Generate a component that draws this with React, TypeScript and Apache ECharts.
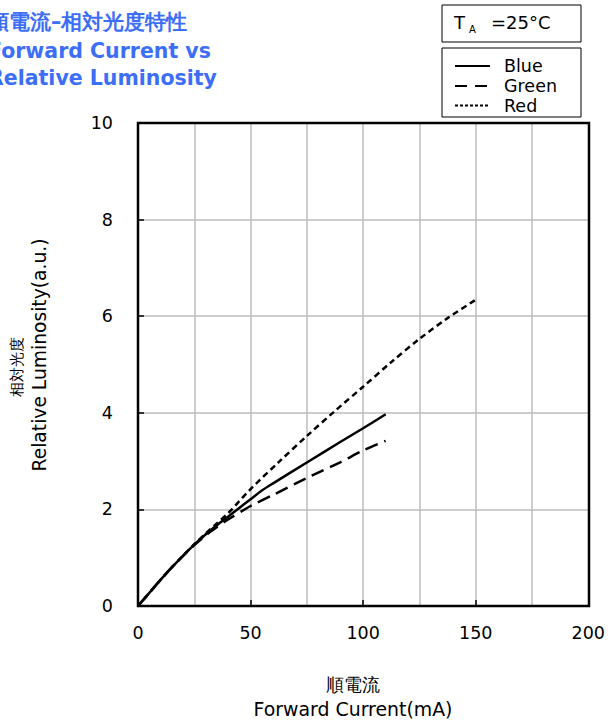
import React, { useEffect, useRef } from "react";
import * as echarts from "echarts";

const xTicks = [0, 50, 100, 150, 200];
const yTicks = [0, 2, 4, 6, 8, 10];

const blueX = [0, 5, 10, 15, 20, 25, 30, 35, 40, 45, 50, 55, 60, 75, 90, 100, 110];
const blueY = [0, 0.27, 0.54, 0.8, 1.04, 1.27, 1.48, 1.67, 1.85, 2.03, 2.21, 2.39, 2.54, 2.97, 3.4, 3.68, 3.97];

const greenX = [0, 5, 10, 15, 20, 25, 30, 35, 40, 50, 60, 75, 90, 100, 110];
const greenY = [0, 0.27, 0.54, 0.8, 1.04, 1.26, 1.46, 1.63, 1.79, 2.07, 2.3, 2.65, 2.98, 3.22, 3.42];

const redX = [0, 5, 10, 15, 20, 25, 30, 35, 40, 50, 62.5, 75, 87.5, 100, 112.5, 125, 137.5, 150];
const redY = [0, 0.27, 0.54, 0.8, 1.04, 1.28, 1.5, 1.71, 1.92, 2.42, 2.98, 3.52, 4.04, 4.54, 5.05, 5.53, 5.96, 6.34];

const titleLines = ["順電流–相対光度特性", "Forward Current vs", "Relative Luminosity"];
const legendNames = ["Blue", "Green", "Red"];
const xNameLines = ["順電流", "Forward Current(mA)"];
const yNameLines = ["相対光度", "Relative Luminosity(a.u.)"];

const pair = (xs: number[], ys: number[]) => xs.map((x, i) => [x, ys[i]]);

const FONT = "'DejaVu Sans', Verdana, sans-serif";
const GL = 138, GT = 123, GW = 451, GH = 483;

export default function App() {
  const ref = useRef<HTMLDivElement>(null);
  useEffect(() => {
    if (!ref.current) return;
    const chart = echarts.init(ref.current, null, { renderer: "svg" });
    const lineW = 2.5;
    const titleColor = "#3d6ef7";
    const graphics: any[] = [];
    const titleBase = [32, 61, 88];
    titleLines.forEach((t, i) => {
      graphics.push({
        type: "text",
        x: -12,
        y: titleBase[i],
        z: 10,
        style: {
          text: t,
          fill: titleColor,
          font: `bold 20.5px ${FONT}`,
          textAlign: "left",
          textVerticalAlign: "bottom",
        },
      });
    });
    // T_A box
    graphics.push({
      type: "rect",
      shape: { x: 442, y: 5, width: 139, height: 37 },
      style: { fill: "#fff", stroke: "#000", lineWidth: 1 },
      z: 10,
    });
    graphics.push({
      type: "text",
      x: 454,
      y: 22,
      z: 11,
      style: { text: "T", fill: "#000", font: `18px ${FONT}`, textVerticalAlign: "middle" },
    });
    graphics.push({
      type: "text",
      x: 469,
      y: 29,
      z: 11,
      style: { text: "A", fill: "#000", font: `10px ${FONT}`, textVerticalAlign: "middle" },
    });
    graphics.push({
      type: "text",
      x: 491,
      y: 22,
      z: 11,
      style: { text: "=25°C", fill: "#000", font: `18px ${FONT}`, textVerticalAlign: "middle" },
    });
    // legend box
    graphics.push({
      type: "rect",
      shape: { x: 442, y: 48, width: 139, height: 69 },
      style: { fill: "#fff", stroke: "#000", lineWidth: 1 },
      z: 10,
    });
    const legY = [66, 86, 105.5];
    const legDash: any[] = [null, [12, 8], [3, 2]];
    legendNames.forEach((n, i) => {
      graphics.push({
        type: "line",
        shape: { x1: 455, y1: legY[i], x2: 490, y2: legY[i] },
        style: { stroke: "#000", lineWidth: 2.2, lineDash: legDash[i] },
        z: 11,
      });
      graphics.push({
        type: "text",
        x: 504,
        y: legY[i],
        z: 11,
        style: { text: n, fill: "#000", font: `17.5px ${FONT}`, textVerticalAlign: "middle" },
      });
    });
    // axis names
    const xNameY = [685, 709];
    const xNameSize = [17.5, 18.9];
    xNameLines.forEach((t, i) => {
      graphics.push({
        type: "text",
        x: 353,
        y: xNameY[i],
        z: 10,
        style: { text: t, fill: "#000", font: `${xNameSize[i]}px ${FONT}`, textAlign: "center", textVerticalAlign: "middle" },
      });
    });
    const yNameX = [17, 39];
    const yNameY = [367, 355];
    const yNameSize = [14.5, 18.7];
    yNameLines.forEach((t, i) => {
      graphics.push({
        type: "text",
        x: yNameX[i],
        y: yNameY[i],
        rotation: Math.PI / 2,
        z: 10,
        style: { text: t, fill: "#000", font: `${yNameSize[i]}px ${FONT}`, textAlign: "center", textVerticalAlign: "middle" },
      });
    });
    // frame
    graphics.push({
      type: "rect",
      shape: { x: GL, y: GT, width: GW, height: GH },
      style: { fill: "none", stroke: "#000", lineWidth: lineW },
      z: 50,
    });

    chart.setOption({
      animation: false,
      backgroundColor: "#fff",
      grid: { left: GL, top: GT, width: GW, height: GH, containLabel: false },
      xAxis: [
        {
          type: "value",
          min: 0,
          max: 200,
          interval: 25,
          axisLine: { show: false },
          axisTick: { show: false },
          axisLabel: { show: false },
          splitLine: { show: true, lineStyle: { color: "#bdbdbd", width: 1.5 } },
        },
        {
          type: "value",
          min: xTicks[0],
          max: xTicks[xTicks.length - 1],
          interval: 50,
          position: "bottom",
          axisLine: { show: false },
          axisTick: { show: true, inside: true, length: 6, lineStyle: { color: "#000", width: 1.5 } },
          axisLabel: { show: true, margin: 18, color: "#000", fontSize: 17.5, fontFamily: FONT },
          splitLine: { show: false },
        },
      ],
      yAxis: {
        type: "value",
        min: yTicks[0],
        max: yTicks[yTicks.length - 1],
        interval: 2,
        axisLine: { show: false },
        axisTick: { show: true, inside: true, length: 6, lineStyle: { color: "#000", width: 1.5 } },
        axisLabel: { margin: 25, color: "#000", fontSize: 17.5, fontFamily: FONT },
        splitLine: { show: true, lineStyle: { color: "#bdbdbd", width: 1.5 } },
      },
      graphic: graphics,
      series: [
        {
          name: "Blue",
          type: "line",
          xAxisIndex: 0,
          data: pair(blueX, blueY),
          showSymbol: false,
          smooth: 0.3,
          lineStyle: { color: "#000", width: lineW, type: "solid" },
          z: 5,
        },
        {
          name: "Green",
          type: "line",
          xAxisIndex: 0,
          data: pair(greenX, greenY),
          showSymbol: false,
          smooth: 0.3,
          lineStyle: { color: "#000", width: lineW, type: [13, 7] },
          z: 5,
        },
        {
          name: "Red",
          type: "line",
          xAxisIndex: 0,
          data: pair(redX, redY),
          showSymbol: false,
          smooth: 0.3,
          lineStyle: { color: "#000", width: lineW, type: [6, 4] },
          z: 5,
        },
      ],
    });
    return () => chart.dispose();
  }, []);
  return (
    <div
      ref={ref}
      style={{ position: "fixed", left: 0, top: 0, width: 608, height: 722, background: "#fff" }}
    />
  );
}
